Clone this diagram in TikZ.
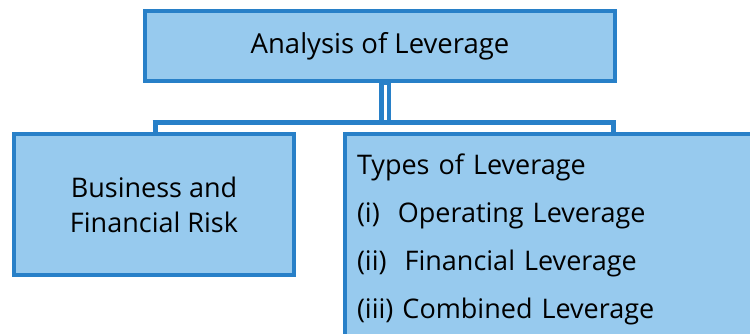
\documentclass[tikz,border=0pt]{standalone}
\usepackage{fontspec}
\setmainfont{Open Sans}
\usetikzlibrary{shadows}
\definecolor{boxfill}{RGB}{151,202,238}
\definecolor{boxline}{RGB}{40,128,200}
\begin{document}
\begin{tikzpicture}[x=1pt,y=1pt,
  box/.style={draw=boxline, line width=4.5pt, fill=boxfill, rectangle,
    drop shadow={shadow xshift=2pt, shadow yshift=-2pt, opacity=0.35}},
  conn/.style={draw=boxline, line width=5pt}]
\useasboundingbox (0,0) rectangle (750,-333);
\fill[white] (0,0) rectangle (750,-333);
\coordinate (hl) at (155,-122);
\coordinate (hr) at (613,-122);
\coordinate (hm) at (385,-122);
\node[box, minimum width=470pt, minimum height=70pt, font=\fontsize{27.5}{33}\selectfont] (top) at (380,-46) {Analysis of Leverage};
\draw[boxline, line width=12pt] (top.south -| hm) -- (hm);
\draw[white, line width=3pt] ([yshift=-2pt]top.south -| hm) -- ([yshift=2pt]hm);
\draw[conn] ([xshift=-2.5pt]hl) -- ([xshift=2.5pt]hr);
\node[box, minimum width=280pt, minimum height=141pt, align=center, font=\fontsize{27}{35}\selectfont] (left) at (154,-204.5) {Business and\\Financial Risk};
\node[box, minimum width=415pt, minimum height=211pt, text width=391pt, inner xsep=12pt, align=left, font=\fontsize{27}{48}\selectfont] (right) at (552.5,-239.5) {Types of Leverage\\(i)\ \ Operating Leverage\\(ii)\ \ Financial Leverage\\(iii) Combined Leverage};
\draw[conn] (hl) -- (hl |- left.north);
\draw[conn] (hr) -- (hr |- right.north);
\end{tikzpicture}
\end{document}
